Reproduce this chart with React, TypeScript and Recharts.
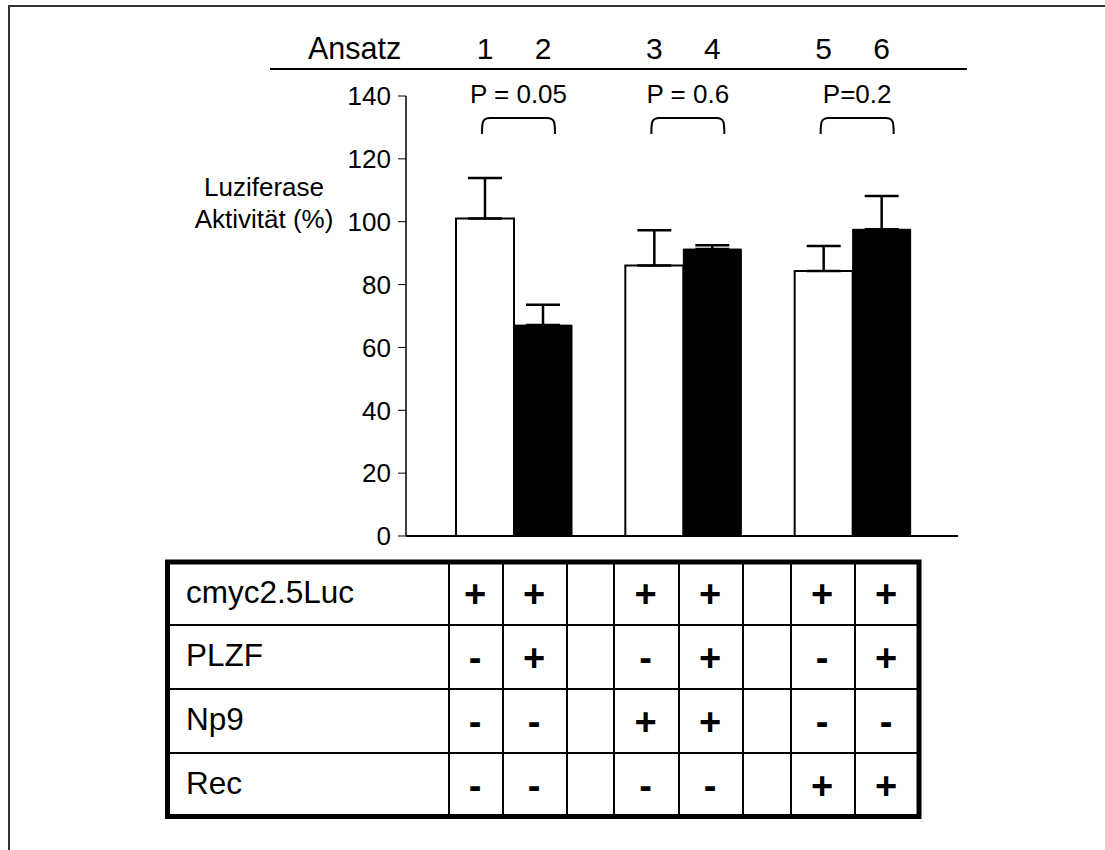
import React from 'react'
import { BarChart, Bar, XAxis, YAxis, ErrorBar, LabelList, ReferenceLine } from 'recharts'

// Ansatz 1..6, paired as ohne / mit PLZF
const groups = ['1/2', '3/4', '5/6']
const ohnePlzf = [101, 86.1, 84.3]
const mitPlzf = [67.1, 91.3, 97.6]
const errOhne = [12.9, 11.2, 8.0]
const errMit = [6.5, 1.2, 10.6]
const ansatzOhne = ['1', '3', '5']
const ansatzMit = ['2', '4', '6']
const pWerte = ['P = 0.05', 'P = 0.6', 'P=0.2']
const yTicks = [0, 20, 40, 60, 80, 100, 120, 140]

const tableRows = ['cmyc2.5Luc', 'PLZF', 'Np9', 'Rec']
const tableSigns = [
  ['+', '+', '', '+', '+', '', '+', '+'],
  ['-', '+', '', '-', '+', '', '-', '+'],
  ['-', '-', '', '+', '+', '', '-', '-'],
  ['-', '-', '', '-', '-', '', '+', '+'],
]

const font = '"Liberation Sans", Arial, sans-serif'

const data = groups.map((g, i) => ({
  g,
  ohne: ohnePlzf[i],
  mit: mitPlzf[i],
  eOhne: [0, errOhne[i]],
  eMit: [0, errMit[i]],
  nA: ansatzOhne[i],
  nB: ansatzMit[i],
  p: pWerte[i],
}))

const box = (props: any) => {
  const vb = props.viewBox ?? props
  return { x: vb.x ?? props.x, w: vb.width ?? props.width }
}

const AnsatzNr = (props: any) => {
  const { x, w } = box(props)
  return (
    <text x={x + w / 2} y={59} textAnchor="middle" fontSize={30} fontFamily={font} fill="#000">
      {props.value}
    </text>
  )
}

const Klammer = (props: any) => {
  const { x, w } = box(props)
  const x0 = x + w / 2 - 3
  const x1 = x0 + 73
  const top = 118
  const bot = 134
  const d = `M${x0},${bot} C${x0},${top + 5} ${x0},${top} ${x0 + 8},${top} L${x1 - 8},${top} C${x1},${top} ${x1},${top + 5} ${x1},${bot}`
  return (
    <g>
      <text x={(x0 + x1) / 2} y={103} textAnchor="middle" fontSize={26} fontFamily={font} fill="#000">
        {props.value}
      </text>
      <path d={d} fill="none" stroke="#000" strokeWidth={2} />
    </g>
  )
}

const YLabel = () => (
  <g>
    <text x={264} y={196} textAnchor="middle" fontSize={26} fontFamily={font} fill="#000">Luziferase</text>
    <text x={264} y={228} textAnchor="middle" fontSize={26} fontFamily={font} fill="#000">Aktivität (%)</text>
  </g>
)

const colLines = [449, 503, 567, 614, 679, 743, 791, 855]
const rowLines = [625, 689, 753]
const rowTops = [562, 625, 689, 753, 817]

export default function App() {
  return (
    <div style={{ position: 'fixed', left: 0, top: 0, width: 1105, height: 850, overflow: 'hidden', background: '#fff' }}>
      <div style={{ position: 'absolute', left: 8, top: 5, width: 1300, height: 1000, border: '2px solid #333', boxSizing: 'border-box' }} />
      <div style={{ position: 'absolute', left: 0, top: 0 }}>
        <BarChart width={1105} height={850} data={data} barSize={58} barGap={0}
          margin={{ top: 96, right: 147, bottom: 314, left: 346 }}>
          <XAxis dataKey="g" hide padding={{ left: 23, right: 21 }} />
          <YAxis domain={[0, 140]} ticks={yTicks} width={60} tickSize={8} tickMargin={7}
            axisLine={{ stroke: '#000', strokeWidth: 1.5 }} tickLine={{ stroke: '#000', strokeWidth: 1 }}
            tick={{ fill: '#000', fontSize: 26, fontFamily: font }}
            label={{ content: YLabel }} />
          <ReferenceLine y={0} stroke="#000" strokeWidth={2} />
          <Bar dataKey="ohne" fill="#fff" stroke="#000" strokeWidth={2} isAnimationActive={false}>
            <ErrorBar dataKey="eOhne" direction="y" width={17} stroke="#000" strokeWidth={2.5} isAnimationActive={false} />
            <LabelList dataKey="nA" content={AnsatzNr} />
            <LabelList dataKey="p" content={Klammer} />
          </Bar>
          <Bar dataKey="mit" fill="#000" stroke="#000" strokeWidth={1} isAnimationActive={false}>
            <ErrorBar dataKey="eMit" direction="y" width={17} stroke="#000" strokeWidth={2.5} isAnimationActive={false} />
            <LabelList dataKey="nB" content={AnsatzNr} />
          </Bar>
        </BarChart>
      </div>
      <svg width={1105} height={850} style={{ position: 'absolute', left: 0, top: 0, pointerEvents: 'none' }}>
        <text x={308} y={59} fontSize={30.5} fontFamily={font} fill="#000">Ansatz</text>
        <line x1={270} x2={967} y1={69} y2={69} stroke="#000" strokeWidth={2} />
        {rowLines.map((y) => (
          <line key={y} x1={167} x2={919} y1={y} y2={y} stroke="#000" strokeWidth={2} />
        ))}
        {colLines.map((x) => (
          <line key={x} x1={x} x2={x} y1={562} y2={817} stroke="#000" strokeWidth={2} />
        ))}
        <rect x={167.5} y={562} width={751.5} height={254.5} fill="none" stroke="#000" strokeWidth={5} />
        {tableRows.map((label, r) => {
          const cy = (rowTops[r] + rowTops[r + 1]) / 2
          const bounds = [...colLines, 919]
          return (
            <g key={label}>
              <text x={186} y={cy - 2} dy="0.35em" fontSize={31.5} fontFamily={font} fill="#000">{label}</text>
              {tableSigns[r].map((s, c) => s ? (
                <text key={c} x={(bounds[c] + bounds[c + 1]) / 2 - 1} y={cy} dy="0.36em" textAnchor="middle"
                  fontSize={38} fontWeight="bold" fontFamily={font} fill="#000">{s}</text>
              ) : null)}
            </g>
          )
        })}
      </svg>
    </div>
  )
}
